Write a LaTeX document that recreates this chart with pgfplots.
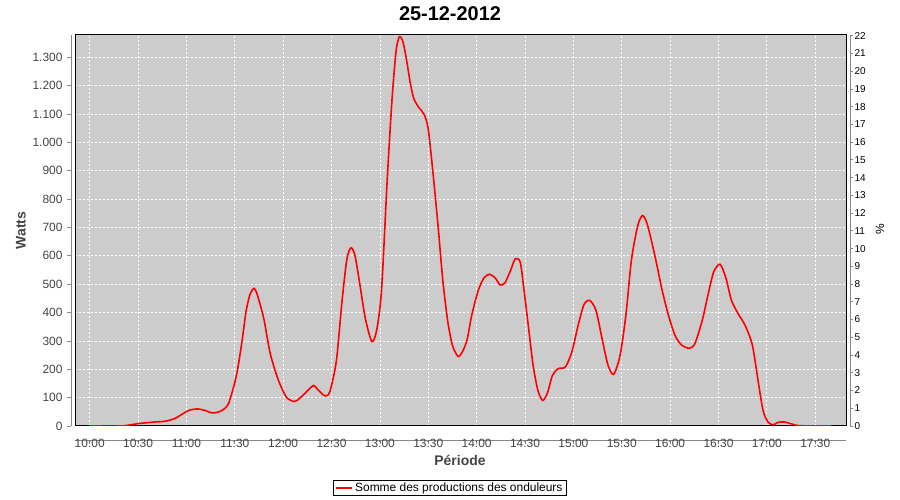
\documentclass[border=0pt]{standalone}
\usepackage{pgfplots}
\pgfplotsset{compat=1.18}
\usepackage{fontspec}
\setmainfont{Liberation Sans}
\definecolor{bgcol}{HTML}{CCCCCC}
\definecolor{axcol}{HTML}{888888}
\definecolor{txtcol}{HTML}{444444}
\begin{document}
\begin{tikzpicture}
\useasboundingbox (0,0) rectangle (900bp,500bp);
% main data axis
\begin{axis}[at={(75bp,74bp)}, anchor=south west, scale only axis,
  width=771bp, height=391bp,
  xmin=-9.12, xmax=469.1, ymin=0, ymax=1378.6,
  xtick={0,30,...,450}, ytick={0,100,...,1300},
  xticklabels={}, yticklabels={}, major tick length=0pt,
  grid=major, grid style={white, dash pattern=on 2bp off 2bp, line width=0.7bp},
  axis background/.style={fill=bgcol},
  axis line style={black, line width=1bp},
  legend style={at={(0.4864,-0.1586)}, anchor=center, draw=black, line width=0.8bp,
    font=\fontsize{12}{14}\selectfont, inner xsep=2bp, inner ysep=0.5bp, fill=white,
    legend cell align=left},
  legend image code/.code={\draw[#1, line width=1.6bp] (0bp,0bp) -- (16bp,0bp);},
  ]
\addplot[red, line width=1.6bp, smooth, tension=0.45] coordinates {
(0,0) (19,0) (25,4) (31,9) (40,14) (47,17) (53,27) (58,44) (62,56) (67,60)
(72,54) (76,46) (81,52) (86,78) (91,178) (94.5,300) (97,405) (99.5,465) (102,485)
(104,462) (108,378) (112,255) (117,162) (122,102) (127,86) (130.5,99) (135,124)
(139,143) (141.5,128) (146,106) (149,122) (153,230) (156.5,440) (159.5,588)
(162,628) (164.5,602) (167.6,498) (171,378) (175,298) (178,338) (181,478)
(184.5,865) (187.5,1150) (190,1320) (192,1372) (194,1360) (196,1308) (199,1205)
(201,1155) (204,1124) (207.5,1098) (210,1046) (213,888) (216,710) (219,515)
(222,372) (225,284) (228.5,245) (231,260) (234,302) (237,392) (241,478)
(244.5,522) (248,535) (251.5,522) (254.5,498) (257.5,504) (261,548) (264,590)
(267,578) (269,498) (272,356) (275,215) (278,125) (281,90) (284,118) (287,178)
(290.5,202) (295,208) (299,260) (303,356) (306.5,427) (310,443) (314,408)
(318,302) (321.5,214) (325,182) (329,250) (332.6,392) (336,585) (340,708)
(343,742) (346,708) (350.5,602) (355,480) (359,390) (363,320) (367,286)
(372,274) (375.5,292) (380,374) (383.5,462) (387,543) (391,570) (394.6,522)
(398,444) (402,398) (406.5,355) (411,286) (414.5,162) (417.6,56) (420.7,14)
(424,4) (426.9,13) (431,14) (435.6,7) (440.6,1) (460,0)
};
\addlegendentry{Somme des productions des onduleurs}
\end{axis}
% left axis
\begin{axis}[at={(71bp,74bp)}, anchor=south west, scale only axis,
  width=10bp, height=391bp, xmin=0, xmax=1, ymin=0, ymax=1378.6,
  axis y line*=left, axis x line=none,
  ytick={0,100,...,1300},
  /pgf/number format/.cd, 1000 sep={.}, assume math mode=true, /pgfplots/.cd,
  tick align=outside, major tick length=4bp,
  axis line style={axcol, line width=0.8bp, -},
  tick style={axcol, line width=0.8bp},
  yticklabel style={font=\fontsize{12}{14}\selectfont, text=txtcol, xshift=-1bp},
  ylabel={\textbf{Watts}}, ylabel style={font=\fontsize{14}{16}\selectfont, text=txtcol},
  ]
\addplot[draw=none] coordinates {(0,0)};
\end{axis}
% bottom axis
\begin{axis}[at={(75bp,70bp)}, anchor=north west, scale only axis,
  width=771bp, height=10bp, xmin=-9.12, xmax=469.1, ymin=0, ymax=1,
  axis x line*=bottom, axis y line=none,
  xtick={0,30,...,450},
  xticklabels={10:00,10:30,11:00,11:30,12:00,12:30,13:00,13:30,14:00,14:30,15:00,15:30,16:00,16:30,17:00,17:30},
  tick align=outside, major tick length=4bp,
  axis line style={axcol, line width=0.8bp, -},
  tick style={axcol, line width=0.8bp},
  xticklabel style={font=\fontsize{12}{14}\selectfont, text=txtcol, yshift=8bp},
  ]
\addplot[draw=none] coordinates {(0,0)};
\end{axis}
% right axis
\begin{axis}[at={(850bp,74bp)}, anchor=south east, scale only axis,
  width=10bp, height=391bp, xmin=0, xmax=1, ymin=0, ymax=22.04,
  axis y line*=right, axis x line=none,
  ytick={0,1,...,22},
  /pgf/number format/.cd, assume math mode=true, /pgfplots/.cd,
  tick align=outside, major tick length=3bp,
  axis line style={axcol, line width=0.8bp, -},
  tick style={axcol, line width=0.8bp},
  yticklabel style={font=\fontsize{10}{12}\selectfont, text=black, xshift=-2bp},
  ]
\addplot[draw=none] coordinates {(0,0)};
\end{axis}
\node[font=\fontsize{20}{24}\selectfont\bfseries] at (450bp,486bp) {25-12-2012};
\node[font=\fontsize{14}{16}\selectfont\bfseries, text=txtcol] at (460bp,40bp) {Période};
\node[font=\fontsize{12}{14}\selectfont, rotate=90] at (880bp,271bp) {\%};
\end{tikzpicture}
\end{document}
